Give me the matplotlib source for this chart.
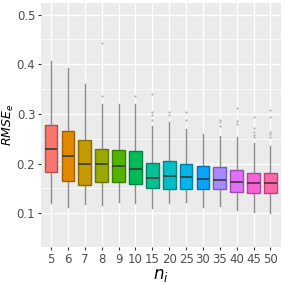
import numpy as np
import matplotlib
matplotlib.use("Agg")
from matplotlib import pyplot as plt

ni = ["5", "6", "7", "8", "9", "10", "15", "20", "25", "30", "35", "40", "45", "50"]
q1 = [0.183, 0.165, 0.156, 0.163, 0.162, 0.158, 0.150, 0.149, 0.149, 0.149, 0.148, 0.142, 0.140, 0.140]
med = [0.230, 0.215, 0.200, 0.199, 0.195, 0.190, 0.171, 0.175, 0.173, 0.170, 0.167, 0.163, 0.160, 0.160]
q3 = [0.277, 0.265, 0.247, 0.230, 0.227, 0.226, 0.202, 0.205, 0.199, 0.196, 0.194, 0.188, 0.181, 0.182]
wlo = [0.120, 0.112, 0.118, 0.117, 0.122, 0.120, 0.110, 0.120, 0.122, 0.112, 0.114, 0.106, 0.102, 0.100]
whi = [0.407, 0.393, 0.360, 0.320, 0.320, 0.320, 0.275, 0.284, 0.270, 0.260, 0.255, 0.254, 0.242, 0.235]
outliers = [
  [], [], [], [0.336, 0.443], [], [0.336],
  [0.287, 0.297, 0.303, 0.340], [0.297, 0.303], [0.287, 0.303], [],
  [0.276, 0.284, 0.287], [0.279, 0.285, 0.311], [0.253, 0.258, 0.264, 0.271, 0.294],
  [0.254, 0.259, 0.264, 0.294, 0.307],
]


def hcl_to_rgb(h, c=100, l=65):
  # polar LUV -> sRGB, like R's hcl()
  xn, yn, zn = 95.047, 100.0, 108.883
  u_ = c * np.cos(np.radians(h))
  v_ = c * np.sin(np.radians(h))
  y = yn * ((l + 16) / 116) ** 3
  un = 4 * xn / (xn + 15 * yn + 3 * zn)
  vn = 9 * yn / (xn + 15 * yn + 3 * zn)
  u = u_ / (13 * l) + un
  v = v_ / (13 * l) + vn
  x = 9 * y * u / (4 * v)
  z = -x / 3 - 5 * y + 3 * y / v
  m = np.array([[3.240479, -1.537150, -0.498535],
                [-0.969256, 1.875992, 0.041556],
                [0.055648, -0.204043, 1.057311]])
  rgb = m @ (np.array([x, y, z]) / 100)
  out = []
  for ch in rgb:
    ch = 12.92 * ch if ch <= 0.0031308 else 1.055 * ch ** (1 / 2.4) - 0.055
    out.append(min(max(ch, 0), 1))
  return tuple(out)


def hue_pal(n):
  hues = np.linspace(15, 375, n + 1)[:n]
  return [hcl_to_rgb(h) for h in hues]


cols = hue_pal(len(ni))

fig = plt.figure(figsize=(2.84, 2.84), dpi=100)
ax = fig.add_axes([0.144, 0.130, 0.844, 0.859])
ax.set_facecolor("#EBEBEB")

stats = []
for i in range(len(ni)):
  stats.append({"med": med[i], "q1": q1[i], "q3": q3[i], "whislo": wlo[i], "whishi": whi[i], "fliers": outliers[i]})

pos = np.arange(1, len(ni) + 1)
bp = ax.bxp(stats, positions=pos, widths=0.75, patch_artist=True, showcaps=False,
            boxprops=dict(linewidth=1.0),
            whiskerprops=dict(color="#8c8c8c", linewidth=1.0),
            medianprops=dict(color="#3a3a3a", linewidth=1.2),
            flierprops=dict(marker="o", markersize=1.6, markerfacecolor="#b5b5b5", markeredgecolor="none"))
for patch, c in zip(bp["boxes"], cols):
  patch.set_facecolor(c)
  patch.set_edgecolor(tuple(0.7 * np.array(c)))
  patch.set_zorder(3)
for m in bp["medians"]:
  m.set_zorder(4)

ax.set_xlim(0.4, len(ni) + 0.6)
ax.set_ylim(0.032, 0.523)
ax.set_xticks(pos)
ax.set_xticklabels(ni)
ax.set_yticks([0.1, 0.2, 0.3, 0.4, 0.5])
ax.set_yticklabels(["0.1", "0.2", "0.3", "0.4", "0.5"])
ax.set_yticks([0.15, 0.25, 0.35, 0.45], minor=True)
ax.grid(True, which="major", color="white", linewidth=1.0, zorder=0)
ax.grid(True, which="minor", axis="y", color="white", linewidth=0.5, zorder=0)
ax.set_axisbelow(True)
for s in ax.spines.values():
  s.set_visible(False)
ax.tick_params(which="major", length=2.5, color="#333333", labelsize=8.5, labelcolor="#4d4d4d", pad=1.5)
ax.tick_params(which="minor", length=0)

ax.set_xlabel("$n_i$", fontsize=12, labelpad=0)
# y label placed by hand so it stays inside the figure
fig.text(8 / 284, 0.56, "$RMSE_e$", fontsize=9, rotation=90, ha="center", va="center")

fig.savefig("out.png", dpi=100)
